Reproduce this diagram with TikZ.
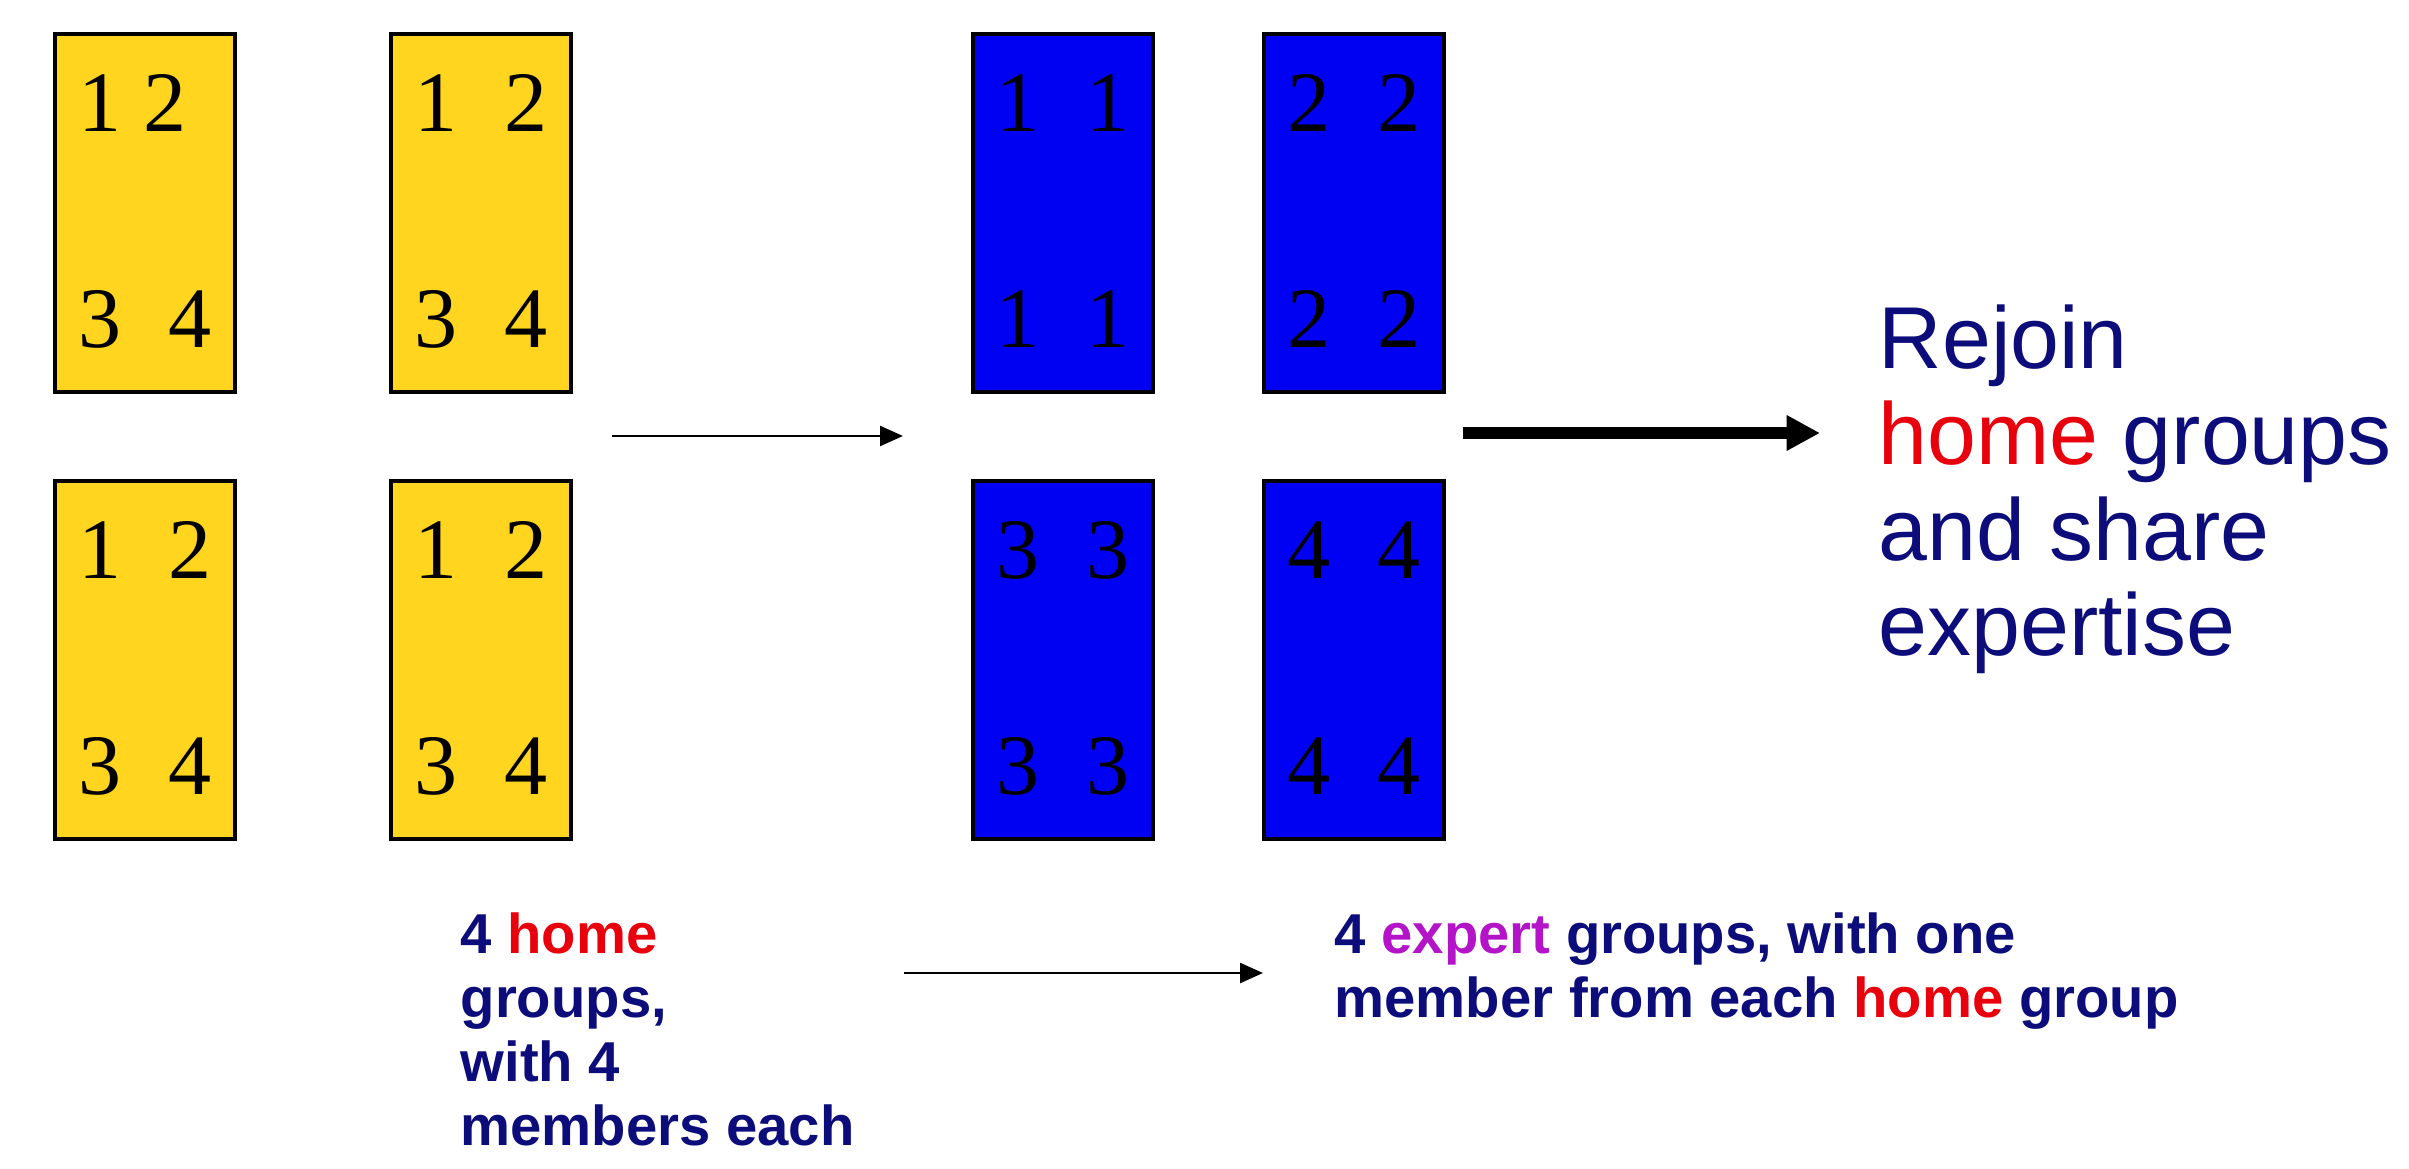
\documentclass[tikz,border=0pt]{standalone}
\usepackage{fontspec}
\setmainfont{Liberation Serif}
\newfontfamily\arial{Liberation Sans}
\usetikzlibrary{arrows.meta,calc}
\definecolor{Gold}{HTML}{FFD520}
\definecolor{Blu}{HTML}{0000F2}
\definecolor{Navy}{HTML}{0C0C7A}
\definecolor{HomeRed}{HTML}{E8000C}
\definecolor{ExpPurple}{HTML}{B414C8}

\begin{document}
\begin{tikzpicture}[x=0.1mm,y=-0.1mm,
  grpbox/.style={draw=black,line width=1pt,minimum width=18mm,minimum height=35.8mm,inner sep=0pt,anchor=north west},
  homebox/.style={grpbox,fill=Gold},
  expbox/.style={grpbox,fill=Blu},
  digit/.style={inner sep=0pt,font=\fontsize{24.5}{28}\selectfont},
  thinarrow/.style={-{Triangle[length=6.5pt,width=5.6pt]},line width=0.85pt},
  fatarrow/.style={-{Triangle[length=9.5pt,width=9.5pt]},line width=3.4pt},
  smalltxt/.style={anchor=base west,inner sep=0pt,align=left,text=Navy,font=\arial\bfseries\fontsize{16}{18.2}\selectfont}]
\useasboundingbox[fill=white] (0,0) rectangle (2409,1169);
% home groups
\foreach \n/\x/\y in {1/53/32,2/389/32,3/53/479,4/389/479} \node[homebox] (home\n) at (\x,\y) {};
\foreach \n/\off in {1/112,2/137,3/137,4/137} {
  \node[digit] (home\n-a) at ($(home\n.north west)+(47,71)$) {1};
  \node[digit] (home\n-b) at ($(home\n.north west)+(\off,71)$) {2};
  \node[digit] (home\n-c) at ($(home\n.north west)+(47,287)$) {3};
  \node[digit] (home\n-d) at ($(home\n.north west)+(137,287)$) {4};
}
% expert groups
\foreach \n/\x/\y in {1/971/32,2/1262/32,3/971/479,4/1262/479} \node[expbox] (expert\n) at (\x,\y) {};
\foreach \n in {1,...,4} {
  \node[digit] (expert\n-a) at ($(expert\n.north west)+(47,71)$) {\n};
  \node[digit] (expert\n-b) at ($(expert\n.north west)+(137,71)$) {\n};
  \node[digit] (expert\n-c) at ($(expert\n.north west)+(47,287)$) {\n};
  \node[digit] (expert\n-d) at ($(expert\n.north west)+(137,287)$) {\n};
}
% arrows
\coordinate (mix-a) at (612,436);
\coordinate (mix-b) at (903,436);
\coordinate (back-a) at (1463,433);
\coordinate (back-b) at (1820,433);
\coordinate (cap-a) at (904,973);
\coordinate (cap-b) at (1263,973);
\draw[thinarrow] (mix-a) -- (mix-b);
\draw[fatarrow] (back-a) -- (back-b);
\draw[thinarrow] (cap-a) -- (cap-b);
% texts (base = last line)
\node[anchor=base west,inner sep=0pt,align=left,text=Navy,font=\arial\fontsize{25}{27.3}\selectfont] (rejoin) at (1878,656) {Rejoin\\\textcolor{HomeRed}{home} groups\\and share\\expertise};
\node[smalltxt] (hometxt) at (460,1145) {4 \textcolor{HomeRed}{home}\\groups,\\with 4\\members each};
\node[smalltxt] (experttxt) at (1334,1017) {4 \textcolor{ExpPurple}{expert} groups, with one\\member from each \textcolor{HomeRed}{home} group};
\end{tikzpicture}
\end{document}
